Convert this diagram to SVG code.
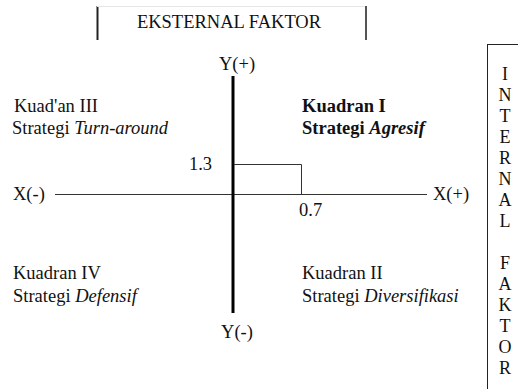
<svg xmlns="http://www.w3.org/2000/svg" width="518" height="389" viewBox="0 0 518 389" font-family="'Liberation Serif', 'Times New Roman', serif">
<style>
text{font-family:'Liberation Serif','Times New Roman',serif;font-size:18.5px;fill:#111}
.b{font-weight:bold}
.i{font-style:italic}
.v{text-anchor:middle;font-size:18px}
</style>
<rect width="518" height="389" fill="#fff"/>
<g id="eksternal">
<line x1="97.5" y1="6" x2="97.5" y2="40" stroke="#222" stroke-width="2"/>
<line x1="97" y1="6.5" x2="366" y2="6.5" stroke="#e6e6e6" stroke-width="1"/>
<line x1="366" y1="6" x2="366" y2="40" stroke="#555" stroke-width="2"/>
<text x="229" y="28" text-anchor="middle">EKSTERNAL FAKTOR</text>
</g>
<g id="internal">
<line x1="487.5" y1="44" x2="487.5" y2="389" stroke="#222" stroke-width="1"/>
<line x1="487" y1="44.5" x2="518" y2="44.5" stroke="#222" stroke-width="1"/>
<text class="v" x="505" y="80">I</text>
<text class="v" x="505" y="101">N</text>
<text class="v" x="505" y="122">T</text>
<text class="v" x="505" y="143">E</text>
<text class="v" x="505" y="164">R</text>
<text class="v" x="505" y="185">N</text>
<text class="v" x="505" y="206">A</text>
<text class="v" x="505" y="227">L</text>
<text class="v" x="505" y="269">F</text>
<text class="v" x="505" y="290">A</text>
<text class="v" x="505" y="311">K</text>
<text class="v" x="505" y="332">T</text>
<text class="v" x="505" y="353">O</text>
<text class="v" x="505" y="374">R</text>
</g>
<g id="axes">
<line x1="55" y1="194.5" x2="427" y2="194.5" stroke="#333" stroke-width="1"/>
<line x1="233" y1="76" x2="233" y2="313" stroke="#000" stroke-width="3"/>
<polyline points="234,164.5 301.5,164.5 301.5,194" fill="none" stroke="#333" stroke-width="1"/>
</g>
<g id="labels">
<text x="237" y="70" text-anchor="middle">Y(+)</text>
<text x="237" y="338" text-anchor="middle">Y(-)</text>
<text x="13" y="200">X(-)</text>
<text x="433" y="200">X(+)</text>
<text x="212" y="170" text-anchor="end">1.3</text>
<text x="299" y="216">0.7</text>
</g>
<g id="kuadran3">
<text x="14" y="112">Kuad'an III</text>
<text x="12" y="134">Strategi <tspan class="i">Turn-around</tspan></text>
</g>
<g id="kuadran1">
<text class="b" x="302" y="112">Kuadran I</text>
<text class="b" x="302" y="134">Strategi <tspan class="i">Agresif</tspan></text>
</g>
<g id="kuadran4">
<text x="13" y="279">Kuadran IV</text>
<text x="13" y="302">Strategi <tspan class="i">Defensif</tspan></text>
</g>
<g id="kuadran2">
<text x="302" y="279">Kuadran II</text>
<text x="302" y="302">Strategi <tspan class="i">Diversifikasi</tspan></text>
</g>
</svg>
